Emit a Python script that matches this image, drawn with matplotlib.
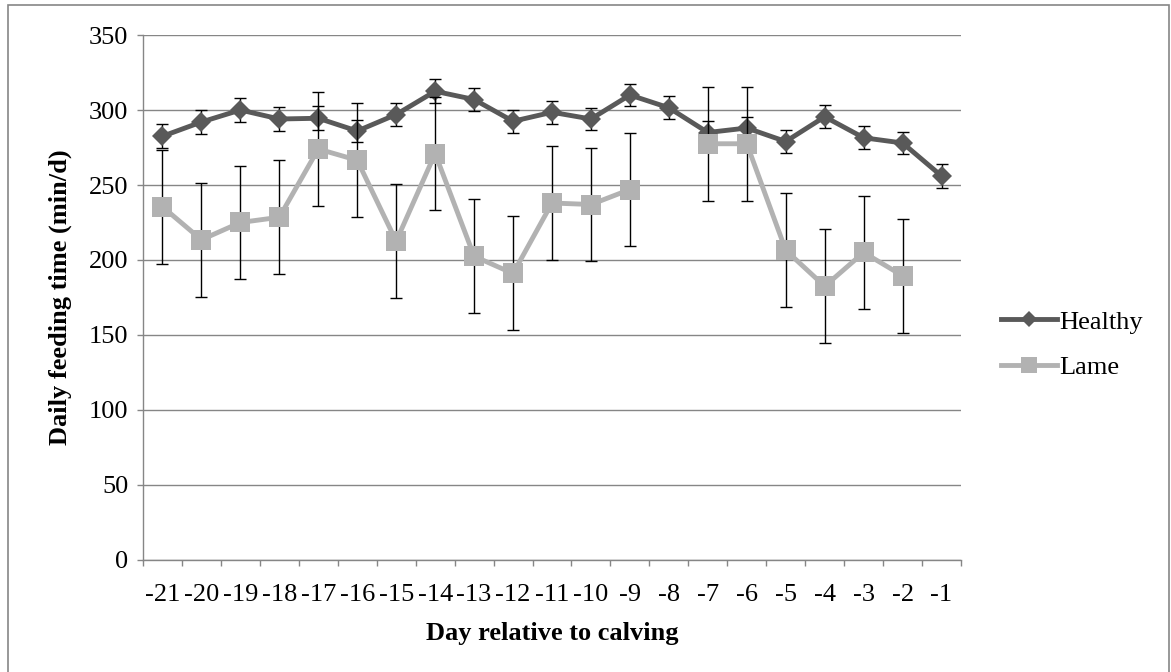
import numpy as np
import matplotlib
matplotlib.use("Agg")
import matplotlib.pyplot as plt
from matplotlib.patches import Rectangle
from matplotlib.ticker import FixedLocator

plt.rcParams['font.family'] = ['Liberation Serif', 'DejaVu Serif']

# data
days = ['-21', '-20', '-19', '-18', '-17', '-16', '-15', '-14', '-13', '-12', '-11',
        '-10', '-9', '-8', '-7', '-6', '-5', '-4', '-3', '-2', '-1']
healthy = [282.5, 292, 300, 294, 294.5, 286, 297, 312.5, 307, 292.5, 298.5,
           294, 310, 301.5, 285, 288, 279, 295.5, 281.5, 278, 256]
healthy_se = [8, 7.7, 7.7, 7.8, 8, 7.5, 7.4, 8, 7.5, 7.6, 7.7,
              7.5, 7.5, 7.7, 7.5, 7.5, 7.5, 7.7, 7.8, 7.5, 7.7]
lame = [235.5, 213.5, 225, 228.5, 274, 266.5, 212.5, 271, 202.5, 191, 238,
        237, 247, np.nan, 277.5, 277.5, 206.5, 182.5, 205, 189.5, np.nan]
lame_se = [38] * 21

x = np.arange(len(days))
grid_c = '#868686'

fig = plt.figure(figsize=(11.71, 6.72), dpi=100)
ax = fig.add_axes([0.1221, 0.1667, 0.6986, 0.7812])

# error bars first, then the lines
ax.errorbar(x, healthy, yerr=healthy_se, fmt='none', ecolor='black',
            elinewidth=1.0, capsize=4, capthick=1.0, zorder=3)
ax.plot(x, healthy, color='#595959', lw=3.5, marker='D', ms=10.5,
        mew=0, label='Healthy', zorder=4)
ax.errorbar(x, lame, yerr=lame_se, fmt='none', ecolor='black',
            elinewidth=1.0, capsize=4, capthick=1.0, zorder=5)
ax.plot(x, lame, color='#b2b2b2', lw=3.5, marker='s', ms=14,
        mew=0, label='Lame', zorder=6)

ax.set_xlim(-0.5, len(days) - 0.5)
ax.set_ylim(0, 350)
ax.set_yticks(np.arange(0, 351, 50))
ax.set_xticks(x)
ax.set_xticklabels(days)
ax.xaxis.set_minor_locator(FixedLocator(np.arange(-0.5, len(days), 1)))
ax.tick_params(axis='x', which='major', length=0, labelsize=19, pad=17)
ax.tick_params(axis='x', which='minor', length=4.5, width=1, color=grid_c)
ax.tick_params(axis='y', length=4.5, width=1, color=grid_c, labelsize=19, pad=6)

ax.yaxis.grid(True, color=grid_c, lw=1.0)
ax.set_axisbelow(True)
for s in ['top', 'right']:
    ax.spines[s].set_visible(False)
for s in ['left', 'bottom']:
    ax.spines[s].set_color(grid_c)
    ax.spines[s].set_linewidth(1.0)

ax.set_xlabel('Day relative to calving', fontsize=19, fontweight='bold', labelpad=12)
ax.set_ylabel('Daily feeding time (min/d)', fontsize=19, fontweight='bold', labelpad=12)

ax.legend(loc='center left', bbox_to_anchor=(1.02, 0.41), frameon=False,
          fontsize=19, handlelength=2.1, handletextpad=0.1, labelspacing=0.85,
          markerscale=0.8)

# outer chart border
fig.add_artist(Rectangle((8 / 1171, -0.05), 1161 / 1171, 1.05 - 5 / 672,
                         transform=fig.transFigure, fill=False,
                         edgecolor='#868686', lw=1.2))

fig.savefig('out.png', dpi=100, facecolor='white')
